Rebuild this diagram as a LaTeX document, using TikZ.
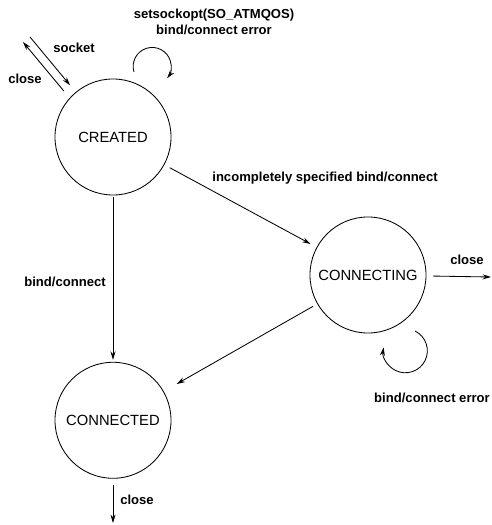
\documentclass[tikz,border=0pt]{standalone}
\usepackage{fontspec}
\setmainfont{Liberation Sans}
\usetikzlibrary{arrows,automata}
\usetikzlibrary{positioning}
\usetikzlibrary{arrows.meta}

\begin{document}
\begin{tikzpicture}[->,>={Stealth[length=6pt,width=3.6pt]},auto,semithick,
		x=0.025cm,y=-0.025cm]
		\tikzstyle{every state}=[draw,minimum size=2.9cm,inner sep=0pt,
		font=\fontsize{10.5}{12}\selectfont]
		\tikzstyle{lbl}=[font=\bfseries\fontsize{9.3}{11}\selectfont,inner sep=0pt,align=center]
		\useasboundingbox (0,0) rectangle (492,525);
		
		\node[state]       (Created)    at (113,137)              {CREATED};
		\node[state]       (Connected)  [below of=Created,node distance=7.08cm] {CONNECTED};
		\node[state]       (Connecting) at (368,275)              {CONNECTING};
		
		% free ends
		\coordinate (SocketIn)       at (30,37);
		\coordinate (CloseTL)        at (23,42);
		\coordinate (CloseR)         at (491,277);
		\coordinate (CloseB)         at (113,523);
		\coordinate (CreatedLoop)    at (134,72);
		\coordinate (ConnectingLoop) at (415,331);
		
		\path (SocketIn)   edge [shorten >=0.22cm]                   (Created)
		(Created.138)      edge [shorten <=0.22cm]                   (CloseTL)
		(Created)          edge [shorten <=0.15cm, shorten >=0.17cm] (Connecting)
		(Created)          edge [shorten <=0.05cm, shorten >=0.05cm] (Connected)
		(Connecting)       edge [shorten <=0.12cm, shorten >=0.37cm] (Connected)
		(Connecting)       edge [shorten <=0.17cm]                   (CloseR)
		(Connected)        edge [shorten <=0.15cm]                   (CloseB)
		;
		
		% self loops
		\draw (CreatedLoop) arc[start angle=163, end angle=398, radius=19];
		\draw (ConnectingLoop) arc[start angle=-64, end angle=189, radius=22];
		
		% labels
		\node[lbl] (SocketLbl)  at (74,48)   {socket};
		\node[lbl] (CloseTLLbl) at (25,79)   {close};
		\node[lbl] (OptLbl)     at (214,22)  {setsockopt(SO\_ATMQOS)\\bind/connect error};
		\node[lbl] (IncLbl)     at (325,178) {incompletely specified bind/connect};
		\node[lbl] (BindLbl)    at (65,282)  {bind/connect};
		\node[lbl] (CloseRLbl)  at (467,260) {close};
		\node[lbl] (ErrLbl)     at (432,398) {bind/connect error};
		\node[lbl] (CloseBLbl)  at (137,500) {close};
\end{tikzpicture}
\end{document}
